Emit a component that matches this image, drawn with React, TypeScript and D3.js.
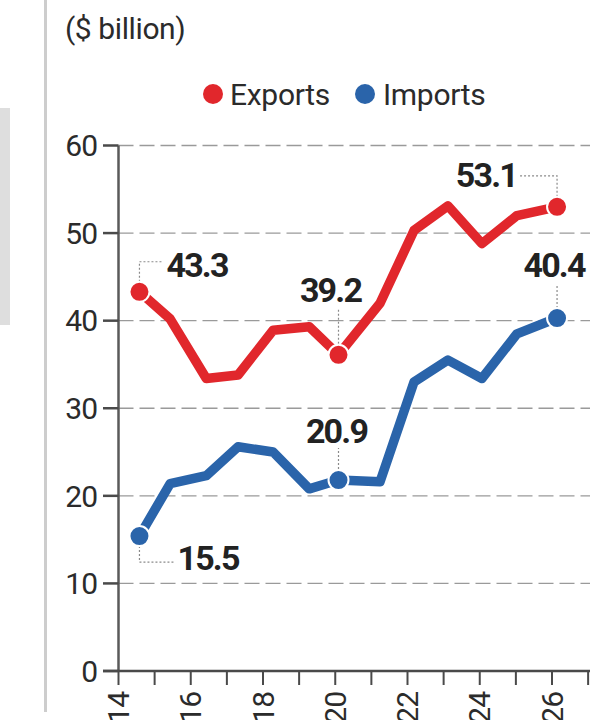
import * as d3 from "d3";

// fiscal periods, in axis units (year ticks 14..26)
const periods = [14.58, 15.43, 16.43, 17.31, 18.28, 19.28, 20.09, 21.24, 22.18, 23.12, 24.06, 25.03, 26.14];
const exportsValues = [43.3, 40.2, 33.4, 33.8, 38.9, 39.3, 36.1, 42.0, 50.3, 53.1, 48.8, 52.0, 53.0];
const importsValues = [15.4, 21.4, 22.3, 25.6, 25.0, 20.8, 21.8, 21.6, 33.0, 35.5, 33.4, 38.5, 40.3];
const yTicks = [0, 10, 20, 30, 40, 50, 60];
const xTicks = d3.range(14, 28);
const xTickLabels = ["14", "16", "18", "20", "22", "24", "26"];

type Annotation = {
  series: "exports" | "imports";
  index: number;
  label: string;
};

const annotations: Annotation[] = [
  { series: "exports", index: 0, label: "43.3" },
  { series: "exports", index: 6, label: "39.2" },
  { series: "exports", index: 12, label: "53.1" },
  { series: "imports", index: 0, label: "15.5" },
  { series: "imports", index: 6, label: "20.9" },
  { series: "imports", index: 12, label: "40.4" },
];

// label placement relative to the marker
const labelLayout: Record<string, { dx: number; dy: number; anchor: string; leader: [number, number][] }> = {
  "43.3": { dx: 27, dy: -15, anchor: "start", leader: [[0, -10], [0, -30], [23, -30]] },
  "39.2": { dx: -8, dy: -53, anchor: "middle", leader: [[0, -11], [0, -46]] },
  "53.1": { dx: -40, dy: -20, anchor: "end", leader: [[0, -10], [0, -31], [-37, -31]] },
  "15.5": { dx: 38, dy: 34, anchor: "start", leader: [[0, 10], [0, 26], [36, 26]] },
  "20.9": { dx: -2, dy: -37, anchor: "middle", leader: [[0, -11], [0, -32]] },
  "40.4": { dx: -3, dy: -41, anchor: "middle", leader: [[0, -10], [0, -32]] },
};

const WIDTH = 590;
const HEIGHT = 720;
const RED = "#e1272c";
const BLUE = "#2a64aa";
const FONT = "Roboto, 'Noto Sans', sans-serif";

const x = d3.scaleLinear().domain([14, 26]).range([118.5, 552]);
const y = d3.scaleLinear().domain([0, 60]).range([671, 145.5]);

export default function App() {
  const line = d3
    .line<number>()
    .x((_, i) => x(periods[i]))
    .y((v) => y(v));

  const seriesValues = { exports: exportsValues, imports: importsValues };
  const seriesColor = { exports: RED, imports: BLUE };

  return (
    <svg
      width={WIDTH}
      height={HEIGHT}
      viewBox={`0 0 ${WIDTH} ${HEIGHT}`}
      style={{ position: "absolute", left: 0, top: 0, background: "#fff" }}
      fontFamily={FONT}
    >
      <rect width={WIDTH} height={HEIGHT} fill="#fff" />
      {/* remnants of the neighbouring panel */}
      <rect x={0} y={108} width={10} height={217} fill="#dedede" />
      <line x1={45.5} x2={45.5} y1={0} y2={712} stroke="#cdcdcd" strokeWidth={3} />

      <text x={65} y={39} fontSize={30} fill="#2b2b2b" letterSpacing={-0.4}>
        ($ billion)
      </text>

      {/* legend */}
      <circle cx={213} cy={94} r={10} fill={RED} />
      <text x={230} y={105} fontSize={30} fill="#2b2b2b" letterSpacing={-0.3}>
        Exports
      </text>
      <circle cx={365} cy={94} r={10} fill={BLUE} />
      <text x={383} y={105} fontSize={30} fill="#2b2b2b" letterSpacing={-0.3}>
        Imports
      </text>

      {/* grid */}
      {yTicks
        .filter((t) => t > 0)
        .map((t) => (
          <line
            key={`g${t}`}
            x1={x.range()[0]}
            x2={WIDTH}
            y1={y(t)}
            y2={y(t)}
            stroke="#9a9a9a"
            strokeWidth={1.4}
            strokeDasharray="15 6"
          />
        ))}

      {/* y axis */}
      <line x1={x.range()[0]} x2={x.range()[0]} y1={y(60)} y2={y(0)} stroke="#5a5a5a" strokeWidth={2.5} />
      {yTicks.map((t) => (
        <g key={`y${t}`}>
          <line x1={103} x2={x.range()[0]} y1={y(t)} y2={y(t)} stroke="#4a4a4a" strokeWidth={2.5} />
          <text x={97} y={y(t)} dy="0.36em" textAnchor="end" fontSize={30} fill="#2b2b2b" letterSpacing={-1}>
            {t}
          </text>
        </g>
      ))}

      {/* x axis */}
      <line x1={103} x2={WIDTH} y1={y(0)} y2={y(0)} stroke="#4a4a4a" strokeWidth={2.5} />
      {xTicks.map((t) => (
        <line key={`x${t}`} x1={x(t)} x2={x(t)} y1={y(0)} y2={y(0) + 14} stroke="#4a4a4a" strokeWidth={2} />
      ))}
      {xTickLabels.map((label) => {
        const px = x(+label);
        return (
          <text
            key={`xl${label}`}
            transform={`translate(${px},692) rotate(-90)`}
            textAnchor="end"
            dominantBaseline="central"
            fontSize={30}
            fill="#2b2b2b"
            letterSpacing={-1}
          >
            {label}
          </text>
        );
      })}

      {/* series */}
      <path d={line(importsValues) ?? undefined} fill="none" stroke={BLUE} strokeWidth={9.5} strokeLinejoin="round" />
      <path d={line(exportsValues) ?? undefined} fill="none" stroke={RED} strokeWidth={9.5} strokeLinejoin="round" />

      {annotations.map((a) => {
        const mx = x(periods[a.index]);
        const my = y(seriesValues[a.series][a.index]);
        const layout = labelLayout[a.label];
        const leader = d3.line()(layout.leader.map(([dx, dy]) => [mx + dx, my + dy] as [number, number]));
        return (
          <g key={a.label}>
            <path d={leader ?? undefined} fill="none" stroke="#8a8a8a" strokeWidth={1.2} strokeDasharray="2 2" />
            <circle cx={mx} cy={my} r={10} fill={seriesColor[a.series]} stroke="#fff" strokeWidth={2} />
            <text
              x={mx + layout.dx}
              y={my + layout.dy}
              textAnchor={layout.anchor}
              fontSize={34}
              fontWeight={700}
              fill="#222"
              letterSpacing={-1.8}
            >
              {a.label}
            </text>
          </g>
        );
      })}
    </svg>
  );
}
